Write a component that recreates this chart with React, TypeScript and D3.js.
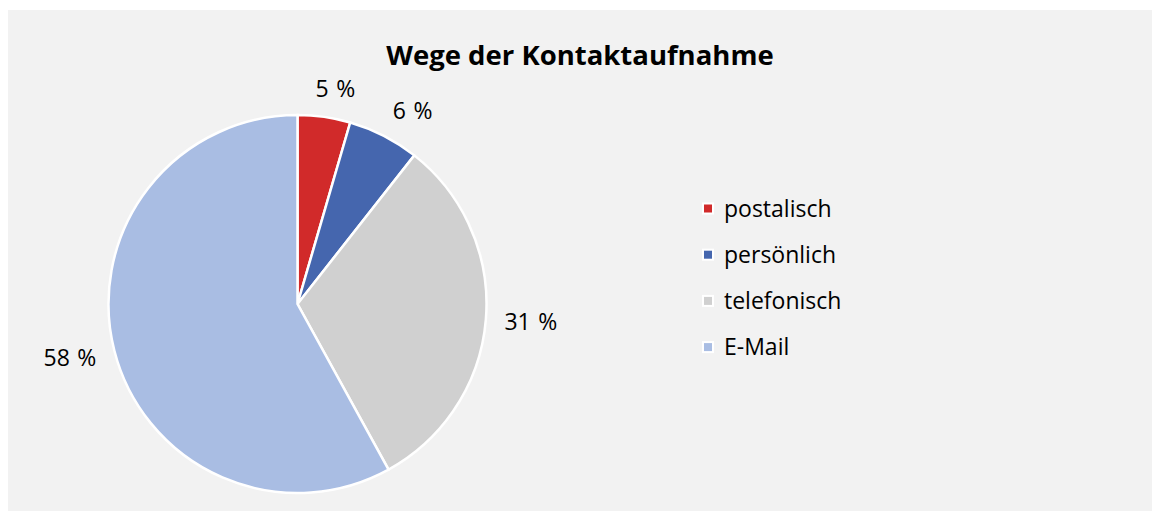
import * as d3 from 'd3';

const categories = ['postalisch', 'persönlich', 'telefonisch', 'E-Mail'];
const shares = [4.5, 6.1, 31.4, 58];
const valueLabels = ['5 %', '6 %', '31 %', '58 %'];
const colors = ['#d12a2a', '#4566ae', '#d0d0d0', '#a9bde3'];
const title = 'Wege der Kontaktaufnahme';

const W = 1152;
const H = 511;
const font = '"Open Sans", "Noto Sans", sans-serif';

function App() {
  const cx = 297.5,
    cy = 304,
    r = 189;

  const pie = d3
    .pie<number>()
    .sort(null)
    .value((d) => d);
  const arcs = pie(shares);
  const arc = d3.arc<d3.PieArcDatum<number>>().innerRadius(0).outerRadius(r);

  // anchor just outside the slice, then push the label box away from the pie
  const labelPos = (a: d3.PieArcDatum<number>, text: string) => {
    const mid = (a.startAngle + a.endAngle) / 2;
    const w = text.length * 14;
    const h = 22;
    const ax = Math.sin(mid) * (r + 17);
    const ay = -Math.cos(mid) * (r + 17);
    const sx = Math.max(-1, Math.min(1, Math.sin(mid) * 3));
    return [ax + (sx * w) / 2, ay - (Math.cos(mid) * h) / 2];
  };

  return (
    <div style={{ position: 'absolute', left: 0, top: 0 }}>
      <svg width={W} height={H} style={{ display: 'block', background: '#fff' }}>
        <rect x={8} y={10} width={W - 8} height={H - 10} fill="#f2f2f2" />
        <text
          x={580}
          y={65}
          textAnchor="middle"
          fontFamily={font}
          fontWeight={700}
          fontSize={27.5}
          fill="#000"
        >
          {title}
        </text>
        <g transform={`translate(${cx},${cy})`}>
          {arcs.map((a, i) => (
            <path key={categories[i]} d={arc(a) || ''} fill={colors[i]} stroke="#fff" strokeWidth={2.5} />
          ))}
          {arcs.map((a, i) => {
            const [x, y] = labelPos(a, valueLabels[i]);
            return (
              <text
                key={'l' + i}
                x={x}
                y={y}
                dy="0.35em"
                textAnchor="middle"
                fontFamily={font}
                fontSize={23}
                wordSpacing={1.5}
                fill="#000"
              >
                {valueLabels[i]}
              </text>
            );
          })}
        </g>
        <g transform="translate(703,208.5)">
          {categories.map((c, i) => (
            <g key={c} transform={`translate(0,${i * 46.2})`}>
              <rect x={0} y={-5} width={10} height={10} fill={colors[i]} stroke="#fff" strokeWidth={2} />
              <text x={21} y={0} dy="0.35em" fontFamily={font} fontSize={23} fill="#000">
                {c}
              </text>
            </g>
          ))}
        </g>
      </svg>
    </div>
  );
}

export default App;
